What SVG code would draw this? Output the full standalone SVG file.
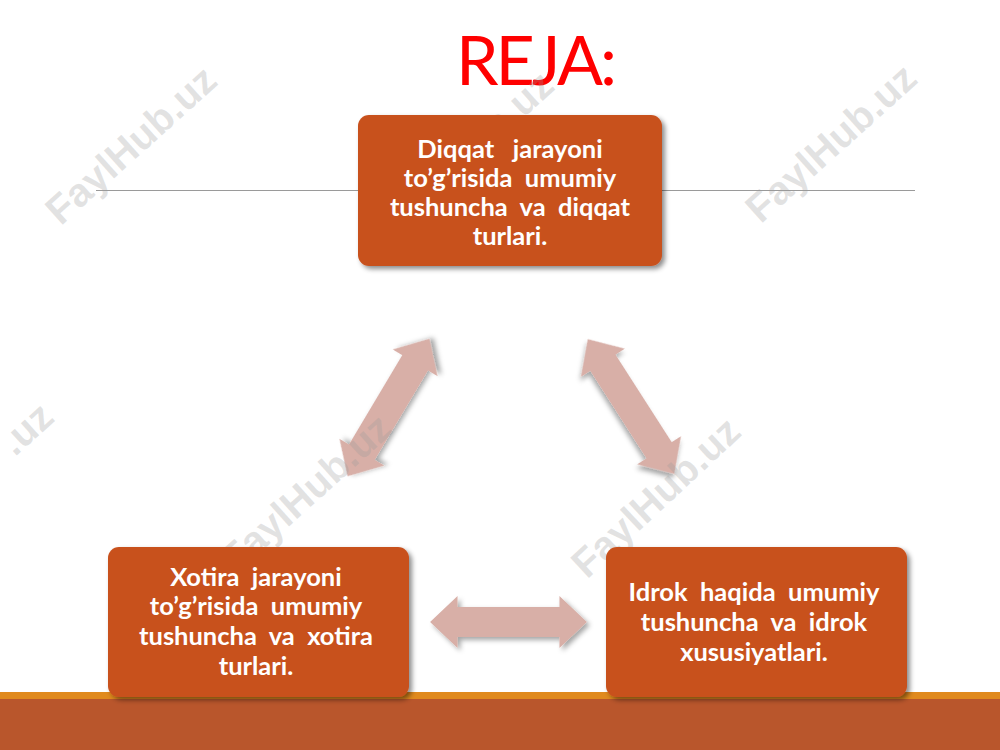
<svg xmlns="http://www.w3.org/2000/svg" width="1000" height="750" viewBox="0 0 1000 750">
  <defs>
    <style>
      .box { fill: #C8511D; filter: url(#shadow); }
      .label { font-family: Lato, "Open Sans", "Liberation Sans", sans-serif; font-weight: bold; font-size: 25.5px; fill: #FFFFFF; text-anchor: middle; }
      .arrow { fill: #D8AFA7; filter: url(#ashadow); }
      .wm { font-family: "Liberation Sans", Arial, sans-serif; font-weight: bold; font-size: 40px; fill: #9a9a9a; fill-opacity: 0.28; }
    </style>
    <filter id="shadow" x="-10%" y="-10%" width="125%" height="130%">
      <feDropShadow dx="3" dy="3" stdDeviation="2.5" flood-color="#000" flood-opacity="0.45"/>
    </filter>
    <filter id="ashadow" x="-20%" y="-30%" width="140%" height="160%">
      <feDropShadow dx="3" dy="3" stdDeviation="2.5" flood-color="#000" flood-opacity="0.35"/>
    </filter>
    <polygon id="dblarrow" points="-80,0 -52,-26 -52,-15 52,-15 52,-26 80,0 52,26 52,15 -52,15 -52,26"/>
  </defs>

  <rect x="0" y="0" width="1000" height="750" fill="#FFFFFF"/>

  <!-- background decoration -->
  <line x1="96" y1="190.5" x2="915" y2="190.5" stroke="#9A9A9A" stroke-width="1"/>
  <rect x="0" y="692" width="1000" height="8" fill="#E08A1E"/>
  <rect x="0" y="699" width="1000" height="51" fill="#B9562C"/>

  <!-- title -->
  <text x="535" y="85" font-family="Lato, 'Open Sans', 'Liberation Sans', sans-serif" font-size="68" letter-spacing="-3" fill="#FF0000" text-anchor="middle">REJA:</text>

  <!-- connectors -->
  <g id="connectors">
    <use href="#dblarrow" class="arrow" transform="translate(388.5,407.5) rotate(-59.2)"/>
    <use href="#dblarrow" class="arrow" transform="translate(631,406.5) rotate(57.3)"/>
    <use href="#dblarrow" class="arrow" transform="translate(508.5,622) scale(0.98,1)"/>
  </g>

  <!-- watermarks -->
  <g id="watermarks">
    <text class="wm" text-anchor="middle" transform="translate(140,155) rotate(-42)">FaylHub.uz</text>
    <text class="wm" text-anchor="middle" transform="translate(840,153) rotate(-42)">FaylHub.uz</text>
    <text class="wm" text-anchor="middle" transform="translate(477,160) rotate(-42)">FaylHub.uz</text>
    <text class="wm" text-anchor="end" transform="translate(56,420) rotate(-42)">.uz</text>
    <text class="wm" text-anchor="middle" transform="translate(315,503) rotate(-42)">FaylHub.uz</text>
    <text class="wm" text-anchor="middle" transform="translate(665,507) rotate(-43)">FaylHub.uz</text>
  </g>

  <!-- nodes -->
  <g id="node-diqqat">
    <rect class="box" x="358" y="115" width="304" height="151" rx="11"/>
    <text class="label" xml:space="preserve"><tspan x="510" y="158">Diqqat   jarayoni</tspan><tspan x="510" y="187">to’g’risida  umumiy</tspan><tspan x="510" y="216">tushuncha  va  diqqat</tspan><tspan x="510" y="245">turlari.</tspan></text>
  </g>

  <g id="node-xotira">
    <rect class="box" x="108" y="547" width="301" height="150" rx="11"/>
    <text class="label" xml:space="preserve"><tspan x="256" y="586">Xotira  jarayoni</tspan><tspan x="256" y="615">to’g’risida  umumiy</tspan><tspan x="256" y="645">tushuncha  va  xotira</tspan><tspan x="256" y="675">turlari.</tspan></text>
  </g>

  <g id="node-idrok">
    <rect class="box" x="606" y="547" width="301" height="150" rx="11"/>
    <text class="label" xml:space="preserve"><tspan x="754" y="601">Idrok  haqida  umumiy</tspan><tspan x="754" y="631">tushuncha  va  idrok</tspan><tspan x="754" y="661">xususiyatlari.</tspan></text>
  </g>
</svg>
